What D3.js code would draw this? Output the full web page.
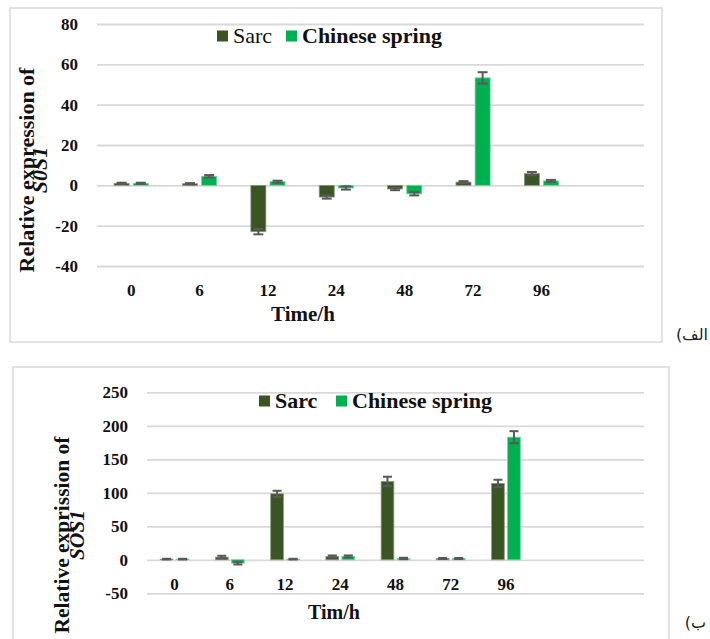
<!DOCTYPE html>
<html>
<head>
<meta charset="utf-8">
<script src="https://cdn.jsdelivr.net/npm/d3@7"></script>
<style>
  html, body { margin: 0; padding: 0; background: #fff; }
  svg { display: block; }
  svg text { font-family: "Liberation Serif", Tinos, "Times New Roman", "DejaVu Serif", serif; fill: #111; }
  svg text.tag { font-family: "DejaVu Sans", "Noto Sans", sans-serif; fill: #222; }
</style>
</head>
<body>
<svg id="chart" width="710" height="639"></svg>
<script>
// Time points (hours) shared by both panels
const categories = ["0", "6", "12", "24", "48", "72", "96"];
const seriesNames = ["Sarc", "Chinese spring"];
const seriesColors = ["#3a5424", "#00b050"];

// Panel (الف): relative expression of S0S1
const sarcA = [1.0, 0.8, -23.0, -5.8, -1.8, 1.6, 5.8];
const springA = [1.0, 4.5, 1.8, -1.3, -4.2, 53.3, 2.2];
const sarcErrA = [0.3, 0.3, 1.3, 0.8, 0.6, 0.5, 0.8];
const springErrA = [0.3, 0.6, 0.5, 0.8, 0.8, 2.8, 0.5];
const ticksA = [-40, -20, 0, 20, 40, 60, 80];

// Panel (ب): relative expression of SOS1
const sarcB = [1, 4, 98.5, 5, 117, 2, 114];
const springB = [1, -5, 1, 5, 2, 2, 183];
const sarcErrB = [0.5, 2, 4.5, 1.5, 7, 0.8, 5.5];
const springErrB = [0.5, 2, 0.5, 1.5, 1, 0.8, 9];
const ticksB = [-50, 0, 50, 100, 150, 200, 250];

const svg = d3.select("#chart");

function drawPanel(cfg) {
  const g = svg.append("g");

  // outer chart frame
  g.append("rect")
    .attr("x", cfg.frame[0]).attr("y", cfg.frame[1])
    .attr("width", cfg.frame[2]).attr("height", cfg.frame[3])
    .attr("fill", "none").attr("stroke", "#d9d9d9").attr("stroke-width", 1.5);

  const y = d3.scaleLinear().domain(cfg.yDomain).range([cfg.bottom, cfg.top]);
  const x = d3.scaleBand().domain(d3.range(cfg.bands)).range([cfg.left, cfg.right]);
  const step = x.bandwidth();
  const barW = step * cfg.barFrac;
  const gap = step * cfg.gapFrac;

  // value axis with gridlines
  const yAxis = d3.axisLeft(y).tickValues(cfg.ticks).tickFormat(d => String(d))
    .tickSize(-(cfg.right - cfg.left)).tickPadding(19);
  const ya = g.append("g").attr("transform", `translate(${cfg.left},0)`).call(yAxis);
  ya.attr("font-family", null);
  ya.select(".domain").remove();
  ya.selectAll(".tick line").attr("stroke", "#d9d9d9").attr("stroke-width", 1.8);
  ya.selectAll(".tick text")
    .attr("font-weight", "bold").attr("font-size", 17).attr("fill", "#111");

  // category labels
  const xAxis = d3.axisBottom(x).tickValues(d3.range(categories.length))
    .tickFormat(i => categories[i]).tickSize(0).tickPadding(0);
  const xa = g.append("g").attr("transform", `translate(0,${cfg.xLabelY})`).call(xAxis);
  xa.attr("font-family", null);
  xa.select(".domain").remove();
  xa.selectAll(".tick text")
    .attr("dy", 0).attr("y", 0)
    .attr("font-weight", "bold").attr("font-size", 17).attr("fill", "#111");

  // bars and error bars
  const series = [cfg.sarc, cfg.spring];
  const errs = [cfg.sarcErr, cfg.springErr];
  series.forEach((vals, s) => {
    const offset = s === 0 ? -(gap / 2 + barW) : gap / 2;
    const data = vals.map((v, i) => ({ i, v, e: errs[s][i] }));
    g.append("g").selectAll("rect").data(data).join("rect")
      .attr("x", d => x(d.i) + step / 2 + offset)
      .attr("width", barW)
      .attr("y", d => y(Math.max(0, d.v)))
      .attr("height", d => Math.abs(y(d.v) - y(0)))
      .attr("fill", seriesColors[s])
      .attr("stroke", s === 0 ? "#8c9a80" : "#6fd39a")
      .attr("stroke-width", 0.8);

    const eb = g.append("g").attr("stroke", "#595959").attr("stroke-width", 2);
    data.forEach(d => {
      const cx = x(d.i) + step / 2 + offset + barW / 2;
      const y1 = y(d.v + d.e), y2 = y(d.v - d.e);
      eb.append("line").attr("x1", cx).attr("x2", cx).attr("y1", y1).attr("y2", y2);
      [y1, y2].forEach(yy => eb.append("line")
        .attr("x1", cx - cfg.capW / 2).attr("x2", cx + cfg.capW / 2)
        .attr("y1", yy).attr("y2", yy));
    });
  });

  // legend
  cfg.legend.forEach((l, s) => {
    g.append("rect").attr("x", l.x).attr("y", l.y - 12.5)
      .attr("width", 11).attr("height", 11).attr("fill", seriesColors[s]);
    g.append("text").attr("x", l.x + 16).attr("y", l.y)
      .attr("font-size", 22).attr("font-weight", l.bold ? "bold" : "normal")
      .text(seriesNames[s]);
  });

  // axis titles
  g.append("text").attr("x", cfg.xTitle[0]).attr("y", cfg.xTitle[1])
    .attr("text-anchor", "middle").attr("font-size", cfg.xTitleSize).attr("font-weight", "bold")
    .text(cfg.xTitleText);

  const yt = g.append("text").attr("text-anchor", "middle")
    .attr("transform", `translate(${cfg.yTitle[0]},${cfg.yTitle[1]}) rotate(-90)`)
    .attr("font-size", cfg.yTitleSize).attr("font-weight", "bold");
  yt.append("tspan").attr("x", 0).attr("y", 0).text(cfg.yTitleLines[0]);
  yt.append("tspan").attr("x", 0).attr("y", cfg.yTitleGap).attr("font-style", "italic")
    .text(cfg.yTitleLines[1]);

  // panel letter (right-to-left)
  svg.append("text").attr("class", "tag")
    .attr("x", cfg.tag[0]).attr("y", cfg.tag[1])
    .attr("direction", "rtl").attr("unicode-bidi", "embed")
    .attr("text-anchor", "start")
    .attr("font-size", 16)
    .text(cfg.tagText);
}

drawPanel({
  frame: [10, 8, 652, 334],
  left: 97, right: 644, top: 24, bottom: 266, bands: 8,
  yDomain: [-40, 80], ticks: ticksA,
  barFrac: 0.22, gapFrac: 0.06, capW: 10,
  sarc: sarcA, spring: springA, sarcErr: sarcErrA, springErr: springErrA,
  xLabelY: 296,
  legend: [{ x: 217, y: 43, bold: false }, { x: 286, y: 43, bold: true }],
  xTitle: [303, 321], xTitleSize: 21, xTitleText: "Time/h",
  yTitle: [34, 170], yTitleGap: 13, yTitleSize: 22,
  yTitleLines: ["Relative expression of", "S0S1"],
  tag: [708, 340], tagText: "الف)"
});

drawPanel({
  frame: [13, 367, 656, 290],
  left: 147, right: 644, top: 392.3, bottom: 593.3, bands: 9,
  yDomain: [-50, 250], ticks: ticksB,
  barFrac: 0.23, gapFrac: 0.06, capW: 9,
  sarc: sarcB, spring: springB, sarcErr: sarcErrB, springErr: springErrB,
  xLabelY: 590,
  legend: [{ x: 259, y: 408, bold: true }, { x: 336, y: 408, bold: true }],
  xTitle: [334, 619], xTitleSize: 20, xTitleText: "Tim/h",
  yTitle: [69, 535], yTitleGap: 15, yTitleSize: 21.5,
  yTitleLines: ["Relative exprission of", "SOS1"],
  tag: [706, 628], tagText: "ب)"
});
</script>
</body>
</html>
